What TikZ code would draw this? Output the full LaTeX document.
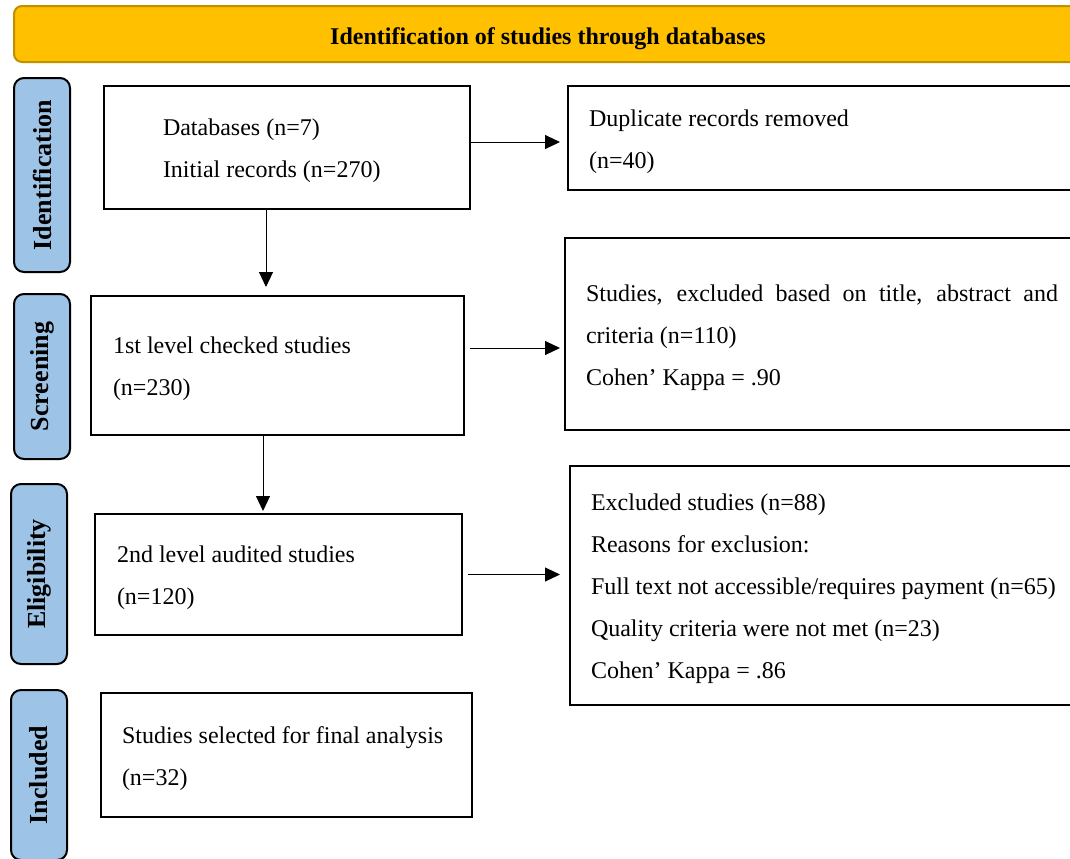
\documentclass[tikz,border=0pt]{standalone}
\usepackage{fontspec}
\setmainfont{Liberation Serif}
\usetikzlibrary{arrows.meta,positioning}
\definecolor{bannerfill}{HTML}{FFC000}
\definecolor{bannerline}{HTML}{BF9000}
\definecolor{phasefill}{HTML}{9DC3E6}
\newcommand{\topgap}{\vrule height 12pt depth 0pt width 0pt\relax}
\tikzset{
banner/.style={
  rectangle,
  rounded corners=4pt,
  draw=bannerline,
  line width=1pt,
  fill=bannerfill,
  anchor=north west,
  inner sep=0pt,
  text height=10pt,
  text depth=0pt,
  font=\fontsize{12}{14}\selectfont\bfseries
  },
phase/.style={
  rectangle,
  rounded corners=5pt,
  draw=black,
  line width=1pt,
  fill=phasefill,
  rotate=90,
  minimum height=28pt,
  inner sep=0pt,
  font=\fontsize{13}{15}\selectfont\bfseries
  }
}
\tikzset{
  stepbox/.style n args={4}{
    rectangle,
    draw=black,
    line width=1pt,
    anchor=north west,
    minimum width=#1,
    minimum height=#2,
    inner xsep=#3,
    inner ysep=0pt,
    text width=#4,
    align=flush left,
    font=\fontsize{12}{21}\selectfont
  },
  flow/.style={-{Triangle[length=7.5pt,width=7pt]}, line width=0.5pt}
}

\begin{document}
\begin{tikzpicture}[x=0.5pt,y=-0.5pt]
\clip (0,0) rectangle (1070,858);

\node[banner, minimum width=534pt, minimum height=28pt] (banner) at (13,5)
  {Identification of studies through databases};

% phases on the left
\node[phase, minimum width=97pt] (ident) at (42,175) {Identification};
\node[phase, minimum width=82.5pt] (screen) at (42,376.5) {Screening};
\node[phase, minimum width=90pt] (elig) at (39,574) {Eligibility};
\node[phase, minimum width=85pt] (incl) at (39,775) {Included};

% main column
\node[stepbox={183pt}{61.5pt}{29.5pt}{124pt}] (dbbox) at (103,85)
  {\topgap Databases (n=7)\\ Initial records (n=270)};
\node[stepbox={186.5pt}{69.5pt}{11pt}{164.5pt}] (chkbox) at (90,295)
  {\topgap 1st level checked studies\\ (n=230)};
\node[stepbox={183.5pt}{60.5pt}{11pt}{161.5pt}] (audbox) at (94,513)
  {\topgap 2nd level audited studies\\ (n=120)};
\node[stepbox={185.5pt}{62pt}{10.5pt}{164.5pt}] (finalbox) at (100,692)
  {\topgap Studies selected for final analysis\\ (n=32)};

% exclusions on the right
\node[stepbox={261.5pt}{52pt}{10.5pt}{240.5pt}] (dupbox) at (567,85)
  {\topgap Duplicate records removed\\ (n=40)};
\node[stepbox={257pt}{96pt}{10.5pt}{236pt}, align=justify] (exclA) at (564,237)
  {\topgap Studies, excluded based on title, abstract and \mbox{criteria} (n=110)\\ Cohen' Kappa = .90};
\node[stepbox={260.5pt}{119.5pt}{10.5pt}{239.5pt}] (exclB) at (569,465)
  {\topgap Excluded studies (n=88)\\ Reasons for exclusion:\\ Full text not accessible/requires payment (n=65)\\
   Quality criteria were not met (n=23)\\ Cohen' Kappa = .86};

\begin{scope}
\coordinate (start) at ([yshift=2.75pt]dbbox.east);
\draw[flow, shorten >=3.5pt] (start) -- (start -| dupbox.west);
\end{scope}

\begin{scope}
\coordinate (start) at ([xshift=-10.5pt]dbbox.south);
\draw[flow, shorten >=4pt] (start) -- (start |- chkbox.north);
\end{scope}

\begin{scope}
\coordinate (start) at ([yshift=8.75pt]chkbox.east);
\draw[flow, shorten <=2.5pt, shorten >=2pt] (start) -- (start -| exclA.west);
\end{scope}

\begin{scope}
\coordinate (start) at ([xshift=-7.25pt]chkbox.south);
\draw[flow, shorten >=1pt] (start) -- (start |- audbox.north);
\end{scope}

\begin{scope}
\coordinate (start) at (audbox.east);
\draw[flow, shorten <=2.5pt, shorten >=4.5pt] (start) -- (start -| exclB.west);
\end{scope}

\end{tikzpicture}
\end{document}
